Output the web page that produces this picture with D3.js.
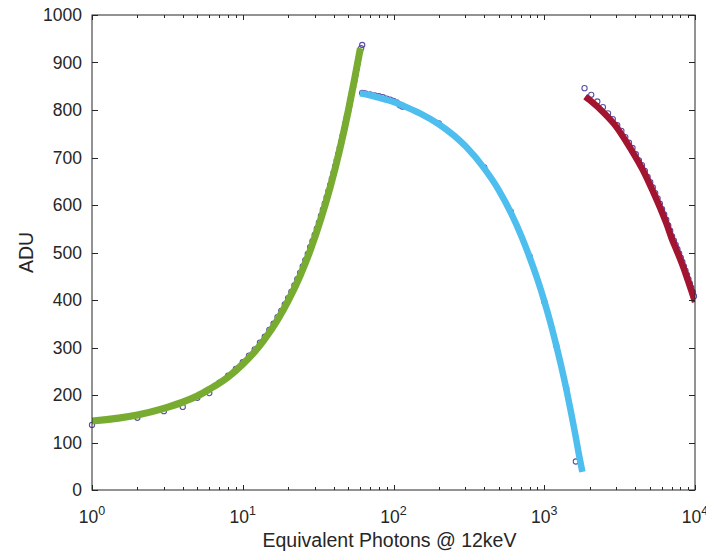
<!DOCTYPE html>
<html>
<head>
<meta charset="utf-8">
<script src="https://cdn.jsdelivr.net/npm/d3@7"></script>
<style>
  html, body { margin: 0; padding: 0; background: #fff; }
  svg { display: block; font-family: "Liberation Sans", Arial, sans-serif; }
</style>
</head>
<body>
<svg id="chart" width="706" height="553"></svg>
<script>
// Measured ADU values (circles) for the three gain ranges
const lowX  = d3.range(1, 63);
const lowY  = [137, 152, 166, 175, 194, 204, 226, 241, 255, 269, 283, 296, 310, 323, 337, 350,
               364, 377, 391, 404, 417, 431, 444, 457, 471, 484, 497, 511, 524, 537, 550, 563,
               577, 590, 603, 616, 629, 642, 655, 668, 681, 694, 707, 720, 733, 746, 759, 772,
               785, 798, 810, 823, 836, 849, 861, 874, 887, 899, 911, 923, 930, 937];

const midX  = [62, 65, 70, 75, 80, 85, 90, 95, 100, 105, 110, 115, 200, 400, 600, 800, 1000, 1200, 1400, 1620];
const midY  = [836, 835, 833, 831, 829, 827, 824, 822, 819, 816, 810, 807, 772, 679, 586, 492, 397, 304, 214, 60];

const highX = [1850, 2050, 2250, 2450, 2650, 2850, 3050, 3250, 3450, 3650, 3850, 4050, 4250, 4450,
               4650, 4850, 5050, 5250, 5450, 5650, 5850, 6050, 6250, 6450, 6650, 6850, 7050, 7250,
               7450, 7650, 7850, 8050, 8250, 8450, 8650, 8850, 9050, 9250, 9450, 9650, 9850];
const highY = [846, 832, 818, 806, 793, 781, 768, 756, 743, 731, 720, 707, 694, 684, 672, 659,
               648, 637, 625, 614, 603, 591, 580, 569, 557, 546, 534, 525, 516, 507, 498, 489,
               480, 471, 462, 453, 444, 435, 426, 417, 408];

// Fitted response curves
const lowFitX  = [1, 2, 3, 4, 5, 6, 7, 8, 10, 12, 14, 17, 20, 24, 28, 33, 38, 44, 50, 55, 60.3];
const lowFitY  = [145, 158, 172, 185, 198, 212, 225, 238, 265, 291, 318, 358, 398, 451, 504, 571, 637, 717, 797, 863, 930];

const midFitX  = [60, 70, 80, 100, 120, 150, 200, 300, 400, 500, 600, 700, 800, 900, 1000, 1100, 1200, 1300, 1400, 1500, 1600, 1700, 1790];
const midFitY  = [835, 831, 826, 817, 807, 793, 770, 724, 677, 631, 584, 537, 490, 444, 398, 352, 305, 259, 213, 166, 120, 74, 38];

const highFitX = [1870, 2000, 2500, 3000, 3500, 4000, 4500, 5000, 5500, 6000, 6500, 7000, 7500, 8000, 8500, 9000, 9500, 10000];
const highFitY = [828, 821, 793, 765, 733, 703, 674, 644, 615, 587, 559, 530, 507, 485, 463, 440, 418, 396];

// Axis ticks
const xDecades = [1, 10, 100, 1000, 10000];
const xDecadeExp = ["0", "1", "2", "3", "4"];
const yTicks = d3.range(0, 1001, 100);

const svg = d3.select("#chart");
const margin = { left: 92, right: 11, top: 15, bottom: 63 };
const W = 706, H = 553;
const x = d3.scaleLog().domain([1, 10000]).range([margin.left, W - margin.right]);
const y = d3.scaleLinear().domain([0, 1000]).range([H - margin.bottom, margin.top]);

const axisColor = "#262626";

svg.append("defs").append("clipPath").attr("id", "plotClip")
  .append("rect")
  .attr("x", x.range()[0]).attr("y", y.range()[1])
  .attr("width", x.range()[1] - x.range()[0])
  .attr("height", y.range()[0] - y.range()[1]);

// Circles first, fitted lines drawn over them
const circleColor = "#5b4ea6";
const sets = [
  { xs: lowX,  ys: lowY },
  { xs: midX,  ys: midY },
  { xs: highX, ys: highY }
];
sets.forEach(s => {
  svg.append("g").selectAll("circle")
    .data(s.xs.map((v, i) => [v, s.ys[i]]))
    .join("circle")
    .attr("cx", d => x(d[0]))
    .attr("cy", d => y(d[1]))
    .attr("r", 2.6)
    .attr("fill", "none")
    .attr("stroke", circleColor)
    .attr("stroke-width", 1.1);
});

const plot = svg.append("g").attr("clip-path", "url(#plotClip)");
const line = d3.line().x(d => x(d[0])).y(d => y(d[1])).curve(d3.curveMonotoneX);
const fits = [
  { xs: lowFitX,  ys: lowFitY,  color: "#77ac30", w: 7 },
  { xs: midFitX,  ys: midFitY,  color: "#4dbeee", w: 6.5 },
  { xs: highFitX, ys: highFitY, color: "#a2142f", w: 6.5 }
];
fits.forEach(f => {
  plot.append("path")
    .datum(f.xs.map((v, i) => [v, f.ys[i]]))
    .attr("d", line)
    .attr("fill", "none")
    .attr("stroke", f.color)
    .attr("stroke-width", f.w)
    .attr("stroke-linejoin", "round")
    .attr("stroke-linecap", "butt");
});

// Box and ticks
const x0 = x.range()[0], x1 = x.range()[1], y0 = y.range()[0], y1 = y.range()[1];
svg.append("rect")
  .attr("x", x0).attr("y", y1).attr("width", x1 - x0).attr("height", y0 - y1)
  .attr("fill", "none").attr("stroke", axisColor).attr("stroke-width", 1);

const minor = [];
for (let e = 0; e < 4; e++) for (let m = 2; m <= 9; m++) minor.push(m * Math.pow(10, e));

const ticks = svg.append("g").attr("stroke", axisColor).attr("stroke-width", 1);
xDecades.forEach(v => {
  const px = Math.round(x(v)) + 0.5;
  ticks.append("line").attr("x1", px).attr("x2", px).attr("y1", y0).attr("y2", y0 - 5);
  ticks.append("line").attr("x1", px).attr("x2", px).attr("y1", y1).attr("y2", y1 + 5);
});
minor.forEach(v => {
  const px = Math.round(x(v)) + 0.5;
  ticks.append("line").attr("x1", px).attr("x2", px).attr("y1", y0).attr("y2", y0 - 3);
  ticks.append("line").attr("x1", px).attr("x2", px).attr("y1", y1).attr("y2", y1 + 3);
});
yTicks.forEach(v => {
  const py = Math.round(y(v)) + 0.5;
  ticks.append("line").attr("x1", x0).attr("x2", x0 + 6).attr("y1", py).attr("y2", py);
  ticks.append("line").attr("x1", x1).attr("x2", x1 - 6).attr("y1", py).attr("y2", py);
});

// Y tick labels
svg.append("g").selectAll("text")
  .data(yTicks)
  .join("text")
  .attr("x", x0 - 10)
  .attr("y", d => y(d) + 6)
  .attr("text-anchor", "end")
  .attr("font-size", 17.5)
  .attr("fill", axisColor)
  .text(d => d);

// X tick labels: powers of ten
xDecades.forEach((v, i) => {
  const t = svg.append("text")
    .attr("x", x(v))
    .attr("y", 523)
    .attr("text-anchor", "middle")
    .attr("font-size", 17.5)
    .attr("fill", axisColor);
  t.append("tspan").text("10");
  t.append("tspan").attr("dy", -8).attr("font-size", 12.5).text(xDecadeExp[i]);
});

// Axis titles
svg.append("text")
  .attr("x", (x0 + x1) / 2 - 4)
  .attr("y", 547)
  .attr("text-anchor", "middle")
  .attr("font-size", 19.5)
  .attr("fill", axisColor)
  .text("Equivalent Photons @ 12keV");

svg.append("text")
  .attr("transform", `translate(33, ${(y0 + y1) / 2}) rotate(-90)`)
  .attr("text-anchor", "middle")
  .attr("font-size", 19.5)
  .attr("fill", axisColor)
  .text("ADU");
</script>
</body>
</html>
